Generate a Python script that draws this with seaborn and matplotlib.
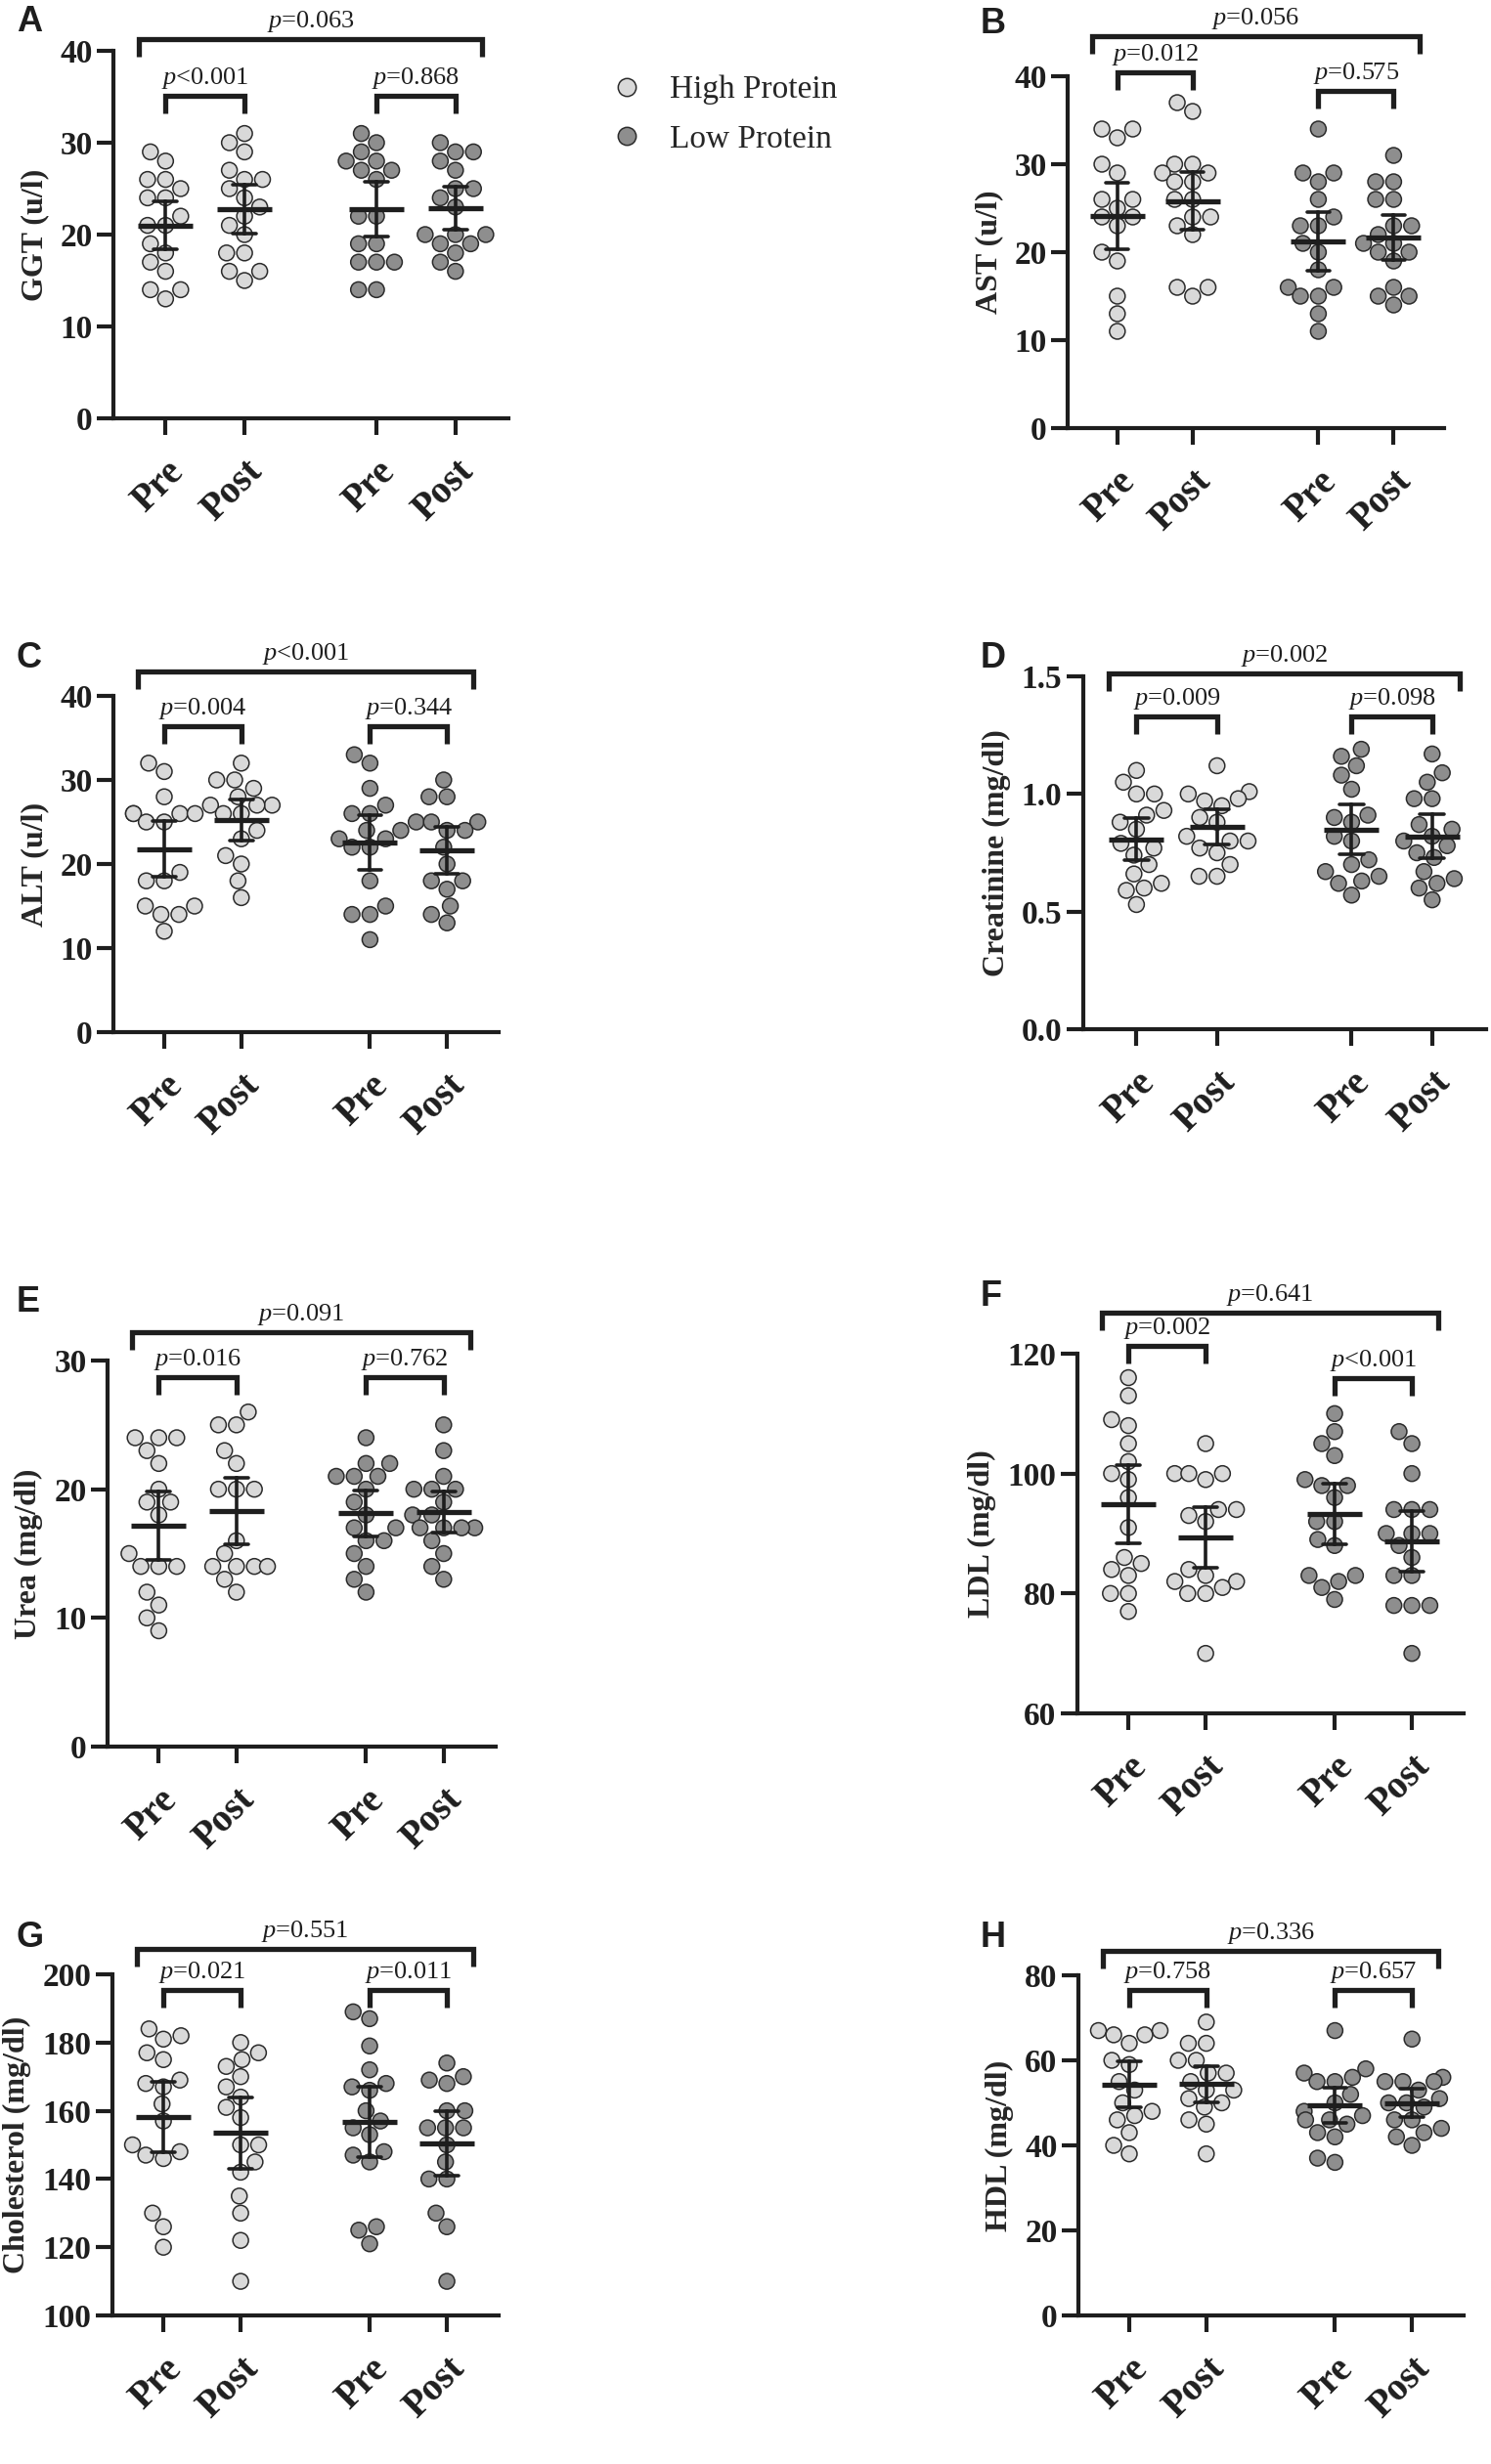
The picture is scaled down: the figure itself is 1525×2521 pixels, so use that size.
import numpy as np
import pandas as pd
import matplotlib
matplotlib.use("Agg")
import matplotlib.pyplot as plt
import matplotlib.transforms as mtransforms
import seaborn as sns

sns.set_style("ticks")
plt.rcParams["font.family"] = ["Liberation Serif", "DejaVu Serif"]
plt.rcParams["mathtext.fontset"] = "custom"
plt.rcParams["mathtext.it"] = "Liberation Serif:italic"
plt.rcParams["mathtext.rm"] = "Liberation Serif"

diets = ["High Protein", "Low Protein"]
times = ["Pre", "Post"]

# values
ggt_hp_pre = [29, 28, 26, 26, 25, 24, 24, 22, 21, 21, 19, 18, 17, 16, 14, 14, 13]
ggt_hp_post = [31, 30, 29, 27, 26, 26, 25, 24, 23, 22, 21, 20, 18, 18, 16, 16, 15]
ggt_lp_pre = [31, 30, 29, 28, 28, 27, 27, 26, 22, 22, 19, 19, 17, 17, 17, 14, 14]
ggt_lp_post = [30, 29, 29, 28, 27, 25, 25, 24, 23, 20, 20, 20, 19, 19, 18, 17, 16]

ast_hp_pre = [34, 34, 33, 30, 29, 26, 26, 25, 24, 24, 23, 20, 19, 15, 13, 11]
ast_hp_post = [37, 36, 30, 30, 29, 29, 28, 28, 26, 26, 24, 24, 23, 22, 16, 16, 15]
ast_lp_pre = [34, 29, 29, 28, 26, 24, 23, 23, 21, 20, 18, 16, 16, 15, 15, 13, 11]
ast_lp_post = [31, 28, 28, 26, 26, 23, 23, 22, 21, 21, 20, 20, 19, 16, 15, 15, 14]

alt_hp_pre = [32, 31, 28, 26, 26, 26, 26, 25, 25, 19, 18, 18, 15, 15, 14, 14, 12]
alt_hp_post = [32, 30, 30, 29, 28, 27, 27, 27, 26, 26, 24, 23, 21, 20, 18, 16]
alt_lp_pre = [33, 32, 29, 27, 26, 26, 24, 24, 23, 23, 22, 22, 18, 15, 14, 14, 11]
alt_lp_post = [30, 28, 28, 25, 25, 25, 24, 24, 22, 20, 18, 18, 17, 15, 14, 13]

cre_hp_pre = [1.10, 1.05, 1.00, 1.00, 0.93, 0.91, 0.88, 0.85, 0.79, 0.77, 0.74, 0.70, 0.66, 0.62, 0.60, 0.59, 0.53]
cre_hp_post = [1.12, 1.01, 1.00, 0.98, 0.97, 0.95, 0.90, 0.88, 0.82, 0.80, 0.80, 0.77, 0.75, 0.70, 0.65, 0.65]
cre_lp_pre = [1.19, 1.16, 1.12, 1.08, 1.02, 0.91, 0.90, 0.88, 0.82, 0.80, 0.72, 0.70, 0.67, 0.65, 0.63, 0.62, 0.57]
cre_lp_post = [1.17, 1.09, 1.05, 0.98, 0.98, 0.87, 0.85, 0.82, 0.80, 0.78, 0.75, 0.73, 0.67, 0.64, 0.62, 0.60, 0.55]

urea_hp_pre = [24, 24, 24, 23, 22, 20, 19, 19, 18, 15, 14, 14, 14, 12, 11, 10, 9]
urea_hp_post = [26, 25, 25, 23, 22, 20, 20, 20, 16, 15, 14, 14, 14, 14, 13, 12]
urea_lp_pre = [24, 22, 22, 21, 21, 21, 20, 19, 18, 17, 17, 16, 16, 15, 14, 13, 12]
urea_lp_post = [25, 23, 21, 20, 20, 20, 19, 18, 18, 17, 17, 17, 17, 16, 15, 14, 13]

ldl_hp_pre = [116, 113, 109, 108, 105, 102, 100, 99, 96, 91, 86, 85, 84, 83, 80, 80, 77]
ldl_hp_post = [105, 100, 100, 100, 99, 94, 94, 93, 92, 84, 83, 82, 82, 81, 80, 80, 70]
ldl_lp_pre = [110, 107, 105, 103, 99, 98, 98, 96, 92, 92, 89, 88, 83, 83, 82, 81, 79]
ldl_lp_post = [107, 105, 100, 94, 94, 94, 90, 90, 90, 88, 86, 83, 83, 78, 78, 78, 70]

chol_hp_pre = [184, 182, 181, 177, 175, 169, 168, 167, 162, 157, 150, 148, 147, 146, 130, 126, 120]
chol_hp_post = [180, 177, 175, 173, 170, 167, 164, 161, 158, 150, 150, 145, 142, 135, 130, 122, 110]
chol_lp_pre = [189, 187, 179, 172, 168, 167, 166, 160, 157, 155, 153, 148, 147, 145, 126, 125, 121]
chol_lp_post = [174, 170, 169, 168, 160, 160, 155, 155, 155, 150, 145, 140, 140, 130, 126, 110]

hdl_hp_pre = [67, 67, 66, 66, 64, 60, 59, 55, 53, 50, 48, 47, 46, 43, 40, 38]
hdl_hp_post = [69, 64, 64, 60, 60, 57, 57, 55, 53, 53, 51, 50, 49, 46, 45, 38]
hdl_lp_pre = [67, 58, 57, 56, 55, 55, 52, 50, 48, 47, 46, 46, 45, 43, 42, 37, 36]
hdl_lp_post = [65, 56, 55, 55, 55, 53, 51, 50, 50, 49, 46, 46, 44, 43, 42, 40]

# p values: overall, high protein pre/post, low protein pre/post
p_ggt = ["=0.063", "<0.001", "=0.868"]
p_ast = ["=0.056", "=0.012", "=0.575"]
p_alt = ["<0.001", "=0.004", "=0.344"]
p_cre = ["=0.002", "=0.009", "=0.098"]
p_urea = ["=0.091", "=0.016", "=0.762"]
p_ldl = ["=0.641", "=0.002", "<0.001"]
p_chol = ["=0.551", "=0.021", "=0.011"]
p_hdl = ["=0.336", "=0.758", "=0.657"]

LIGHT = "#d9d9d9"
DARK = "#8e8e8e"
EDGE = "#2b2b2b"
INK = "#1e1e1e"
POS = [0, 1, 2.67, 3.67]

T975 = {12: 2.179, 13: 2.160, 14: 2.145, 15: 2.131, 16: 2.120, 17: 2.110, 18: 2.101}


def ci95(v):
    v = np.asarray(v, dtype=float)
    n = len(v)
    m = v.mean()
    h = T975[n - 1] * v.std(ddof=1) / np.sqrt(n)
    return m - h, m + h


# label, ylabel, data, p texts, ylim, yticks, axes rect (px), bracket heights (axes frac)
panels = [
    ("A", "GGT (u/l)", [ggt_hp_pre, ggt_hp_post, ggt_lp_pre, ggt_lp_post], p_ggt,
     (0, 40), [0, 10, 20, 30, 40], (116, 52, 520, 428), (1.032, 0.878, 0.878)),
    ("B", "AST (u/l)", [ast_hp_pre, ast_hp_post, ast_lp_pre, ast_lp_post], p_ast,
     (0, 40), [0, 10, 20, 30, 40], (1092, 78, 1477, 438), (1.114, 1.011, 0.958)),
    ("C", "ALT (u/l)", [alt_hp_pre, alt_hp_post, alt_lp_pre, alt_lp_post], p_alt,
     (0, 40), [0, 10, 20, 30, 40], (116, 712, 510, 1056), (1.073, 0.910, 0.910)),
    ("D", "Creatinine (mg/dl)", [cre_hp_pre, cre_hp_post, cre_lp_pre, cre_lp_post], p_cre,
     (0, 1.5), [0.0, 0.5, 1.0, 1.5], (1108, 692, 1520, 1053), (1.008, 0.886, 0.886)),
    ("E", "Urea (mg/dl)", [urea_hp_pre, urea_hp_post, urea_lp_pre, urea_lp_post], p_urea,
     (0, 30), [0, 10, 20, 30], (110, 1392, 507, 1787), (1.073, 0.957, 0.957)),
    ("F", "LDL (mg/dl)", [ldl_hp_pre, ldl_hp_post, ldl_lp_pre, ldl_lp_post], p_ldl,
     (60, 120), [60, 80, 100, 120], (1102, 1385, 1497, 1753), (1.114, 1.022, 0.932)),
    ("G", "Cholesterol (mg/dl)", [chol_hp_pre, chol_hp_post, chol_lp_pre, chol_lp_post], p_chol,
     (100, 200), [100, 120, 140, 160, 180, 200], (115, 2020, 510, 2369), (1.074, 0.954, 0.954)),
    ("H", "HDL (mg/dl)", [hdl_hp_pre, hdl_hp_post, hdl_lp_pre, hdl_lp_post], p_hdl,
     (0, 80), [0, 20, 40, 60, 80], (1103, 2021, 1497, 2369), (1.072, 0.957, 0.957)),
]

W, H = 1525, 2521
fig = plt.figure(figsize=(W / 100, H / 100), dpi=100)

for i, (letter, ylabel, series, ptxt, ylim, yticks, rect, brk) in enumerate(panels):
    x0, y0, x1, y1 = rect
    ax = fig.add_axes([x0 / W, 1 - y1 / H, (x1 - x0) / W, (y1 - y0) / H])
    rows = []
    for k, vals in enumerate(series):
        diet = diets[k // 2]
        for v in vals:
            rows.append({"pos": POS[k], "value": v, "diet": diet})
    df = pd.DataFrame(rows)

    sns.swarmplot(data=df, x="pos", y="value", hue="diet", hue_order=diets,
                  palette=[LIGHT, DARK], native_scale=True, size=11.5,
                  edgecolor=EDGE, linewidth=1.1, legend=(i == 0), ax=ax, zorder=2)
    sns.pointplot(data=df, x="pos", y="value", native_scale=True, errorbar=ci95,
                  marker="_", markersize=40, markeredgewidth=3.8, linestyle="none",
                  color=INK, capsize=0.3, err_kws={"linewidth": 2.6, "zorder": 4},
                  ax=ax, zorder=5)

    ax.set_xlim(-0.66, 4.34)
    ax.set_ylim(*ylim)
    ax.set_yticks(yticks)
    ax.set_xticks(POS)
    ax.set_xticklabels(times * 2, rotation=45, ha="right", va="top",
                       rotation_mode="anchor", fontsize=28, fontweight="bold")
    for t in ax.get_yticklabels():
        t.set_fontsize(24)
        t.set_fontweight("bold")
    ax.set_xlabel("")
    ax.set_ylabel(ylabel, fontsize=23, fontweight="bold", labelpad=8)
    sns.despine(ax=ax)
    for s in ["left", "bottom"]:
        ax.spines[s].set_linewidth(3)
        ax.spines[s].set_color(INK)
    ax.tick_params(axis="both", length=12, width=3, color=INK, labelcolor=INK)
    ax.tick_params(axis="x", pad=14)

    # significance brackets
    trans = mtransforms.blended_transform_factory(ax.transData, ax.transAxes)
    hpx = y1 - y0
    leg = 18 / hpx
    gap = 5 / hpx
    spans = [(POS[0] - 0.34, POS[3] + 0.34), (POS[0], POS[1]), (POS[2], POS[3])]
    for (a, b), yb, txt in zip(spans, brk, ptxt):
        ax.plot([a, a, b, b], [yb - leg, yb, yb, yb - leg], transform=trans,
                clip_on=False, color=INK, lw=3.8, solid_joinstyle="miter",
                solid_capstyle="butt")
        ax.text((a + b) / 2, yb + gap, r"$\mathit{p}$" + txt, transform=trans,
                ha="center", va="bottom", fontsize=19, color=INK)

    lx = 17 if x0 < 700 else 1003
    ly = {"A": 22, "B": 25, "C": 673, "D": 673, "E": 1333, "F": 1327,
          "G": 1982, "H": 1983}[letter]
    fig.text(lx / W, 1 - ly / H, letter, fontsize=26, fontweight="bold",
             family="Liberation Sans", ha="left", va="center", color=INK)

    if i == 0:
        sns.move_legend(ax, "upper left", bbox_to_anchor=(578 / W, 1 - 47 / H),
                        bbox_transform=fig.transFigure, frameon=False, title=None,
                        fontsize=24, handletextpad=0.3, labelspacing=0.6,
                        markerscale=1.15)

fig.savefig("out.png", dpi=100)
